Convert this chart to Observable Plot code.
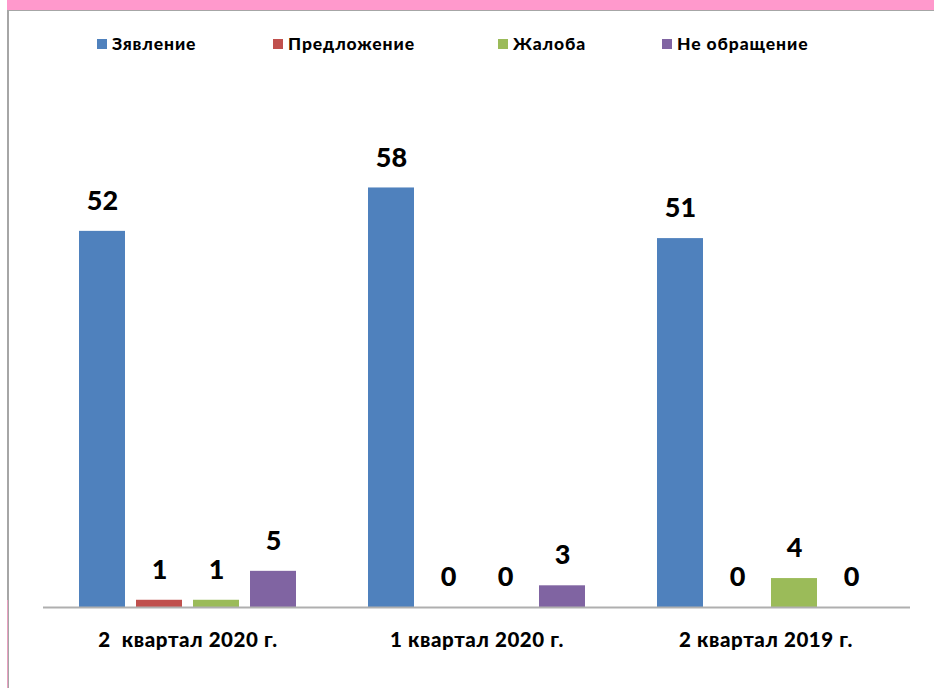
<!DOCTYPE html>
<html>
<head>
<meta charset="utf-8">
<script src="https://cdn.jsdelivr.net/npm/d3@7"></script>
<script src="https://cdn.jsdelivr.net/npm/@observablehq/plot@0.6"></script>
<style>
  html, body { margin: 0; padding: 0; background: #fff; }
  body { width: 934px; height: 688px; position: relative; overflow: hidden; font-family: Lato, "Open Sans", sans-serif; }
  #band { position: absolute; left: 7px; top: 0; width: 927px; height: 10px; background: #FF99CC; }
  #topline { position: absolute; left: 7px; top: 10px; width: 927px; height: 1px; background: #A6A6A6; }
  #leftline { position: absolute; left: 7px; top: 10px; width: 2px; height: 678px; background: #A6A6A6; }
  #leftpink { position: absolute; left: 7px; top: 600px; width: 1px; height: 88px; background: #E8A0C0; }
  #chart { position: absolute; left: 0; top: 0; }
  #legend { position: absolute; left: 0; top: 33px; width: 934px; height: 22px; }
  .item { position: absolute; top: 0; display: flex; align-items: center; font-weight: 900; font-size: 17.5px; letter-spacing: 0.9px; color: #000; white-space: nowrap; }
  .sw { width: 10px; height: 10px; margin-right: 5px; display: inline-block; }
</style>
</head>
<body>
<div id="band"></div>
<div id="topline"></div>
<div id="leftline"></div>
<div id="leftpink"></div>
<div id="chart"></div>
<div id="legend"></div>
<script>
const categories = ["2  квартал 2020 г.", "1 квартал 2020 г.", "2 квартал 2019 г."];
const seriesNames = ["Зявление", "Предложение", "Жалоба", "Не обращение"];
const seriesColors = ["#4F81BD", "#C0504D", "#9BBB59", "#8064A2"];
const zayavlenie = [52, 58, 51];
const predlozhenie = [1, 0, 0];
const zhaloba = [1, 0, 4];
const neObrashchenie = [5, 3, 0];

const seriesValues = [zayavlenie, predlozhenie, zhaloba, neObrashchenie];
const data = [];
categories.forEach((c, ci) => {
  seriesNames.forEach((s, si) => {
    data.push({category: c, series: s, value: seriesValues[si][ci]});
  });
});

const chart = Plot.plot({
  width: 934,
  height: 688,
  marginLeft: 43,
  marginRight: 24,
  marginTop: 173,
  marginBottom: 81,
  style: {fontFamily: "Lato, 'Open Sans', sans-serif", background: "transparent"},
  fx: {domain: categories, paddingInner: 0, paddingOuter: 0, label: null},
  x: {domain: seriesNames, paddingInner: 0.2, paddingOuter: 0.613, axis: null},
  y: {domain: [0, 60], axis: null},
  color: {domain: seriesNames, range: seriesColors},
  marks: [
    Plot.barY(data, {fx: "category", x: "series", y: "value", fill: "series"}),
    Plot.ruleY([0], {stroke: "#AFAFAF", strokeWidth: 2}),
    Plot.text(data, {fx: "category", x: "series", y: "value", text: d => String(d.value), dy: -30, fontSize: 27, fontWeight: 900, fill: "#000", textAnchor: "middle", lineAnchor: "middle"}),
    Plot.axisFx({anchor: "bottom", tickSize: 0, tickPadding: 25, fontSize: 20.5, fontWeight: 900, label: null, color: "#000"})
  ]
});
chart.querySelectorAll("g[aria-label='fx-axis tick label']").forEach(el => { el.setAttribute("font-weight", "900"); el.setAttribute("fill", "#000"); el.setAttribute("letter-spacing", "0.6"); });
document.getElementById("chart").appendChild(chart);

const lefts = [97, 273, 498, 662];
const legend = document.getElementById("legend");
seriesNames.forEach((s, i) => {
  const it = document.createElement("div");
  it.className = "item";
  it.style.left = lefts[i] + "px";
  const sw = document.createElement("span");
  sw.className = "sw";
  sw.style.background = seriesColors[i];
  it.appendChild(sw);
  it.appendChild(document.createTextNode(s));
  legend.appendChild(it);
});
</script>
</body>
</html>
